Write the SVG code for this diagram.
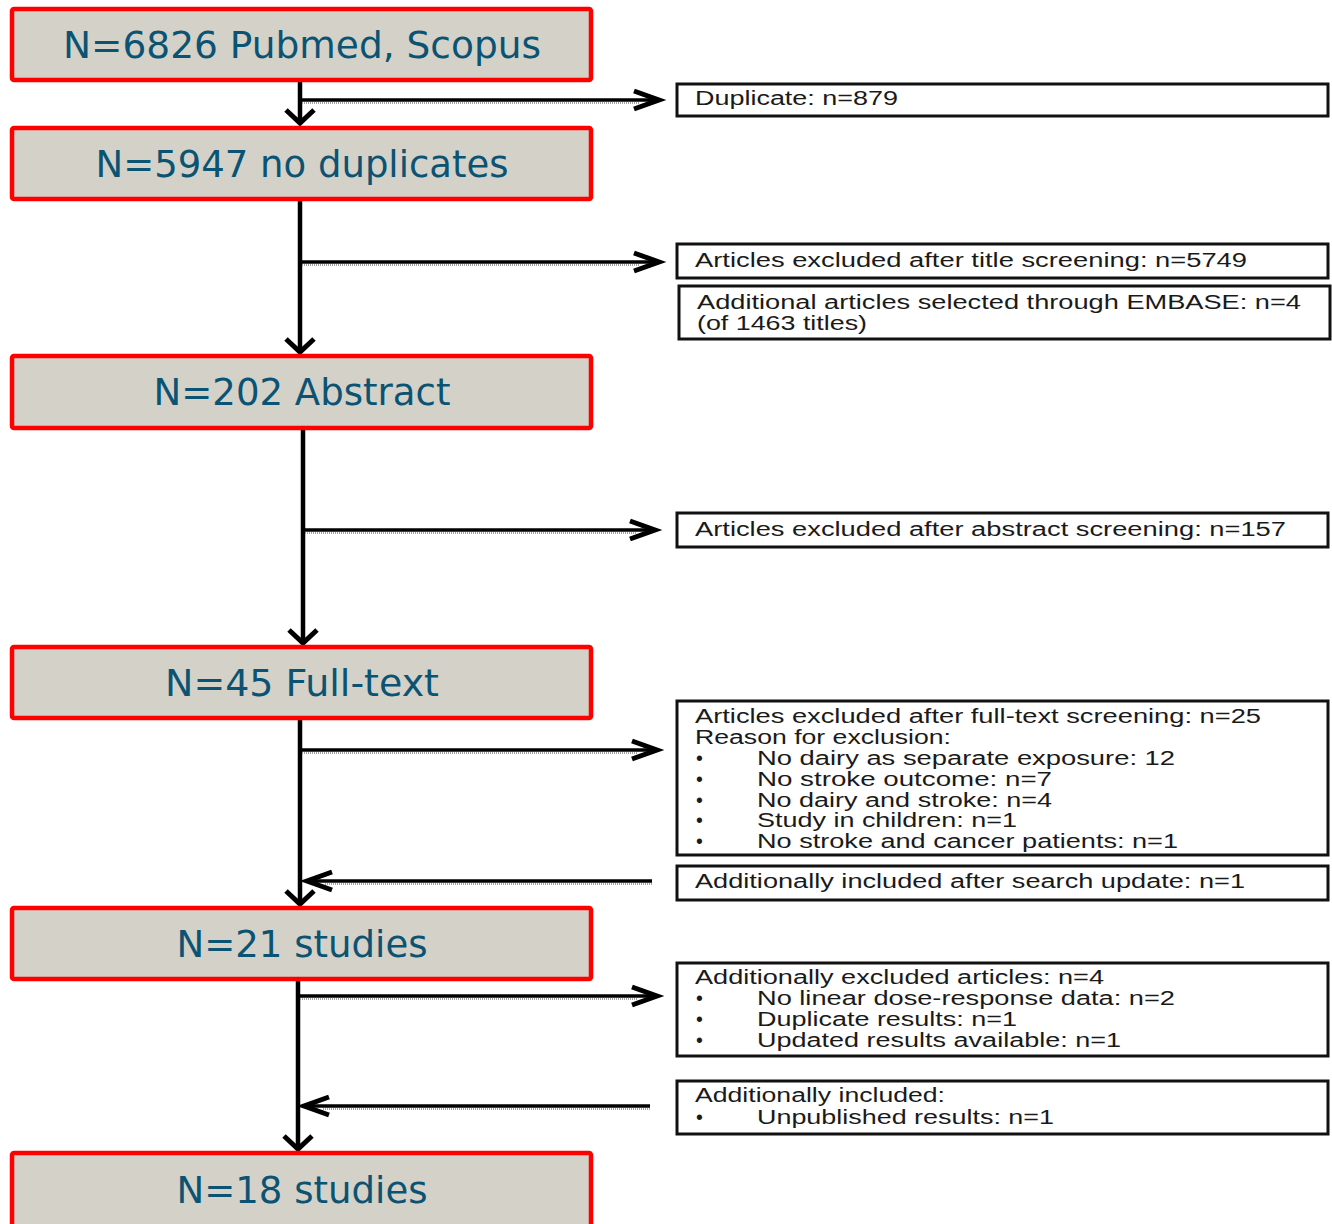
<svg xmlns="http://www.w3.org/2000/svg" width="1332" height="1224" viewBox="0 0 1332 1224">
<style>
.main{fill:#d4d1c8;stroke:#ff0000;stroke-width:4.5}
.mt{font-family:"DejaVu Sans",Verdana,sans-serif;font-size:38px;fill:#0b5373;text-anchor:middle}
.side{fill:#ffffff;stroke:#111111;stroke-width:3}
.st{font-family:"Liberation Sans",Arial,sans-serif;font-size:19.5px;fill:#1a1a1a}
.ln{stroke:#000000;stroke-width:4.5;fill:none}
.lh{stroke:#000000;stroke-width:3.5;fill:none}
.dt{stroke:#888888;stroke-width:1.5;stroke-dasharray:1 1;fill:none}
</style>
<defs>
<marker id="arH" viewBox="0 0 32 22" refX="29" refY="11" markerWidth="32" markerHeight="22" orient="auto" markerUnits="userSpaceOnUse" overflow="visible">
<path d="M3,2 L28,11 L3,20" fill="none" stroke="#000" stroke-width="5"/>
</marker>
<marker id="arV" viewBox="0 0 18 32" refX="16" refY="16" markerWidth="18" markerHeight="32" orient="auto" markerUnits="userSpaceOnUse" overflow="visible">
<path d="M2,2 L15,16 L2,30" fill="none" stroke="#000" stroke-width="5"/>
</marker>
</defs>
<rect width="1332" height="1224" fill="#ffffff"/>

<g id="connectors">
<line class="ln" x1="300" y1="82" x2="300" y2="124" marker-end="url(#arV)"/>
<line class="ln" x1="300" y1="201" x2="300" y2="353" marker-end="url(#arV)"/>
<line class="ln" x1="303" y1="430" x2="303" y2="644" marker-end="url(#arV)"/>
<line class="ln" x1="300" y1="720" x2="300" y2="905" marker-end="url(#arV)"/>
<line class="ln" x1="298" y1="981" x2="298" y2="1150" marker-end="url(#arV)"/>

<line class="dt" x1="302" y1="103" x2="640" y2="103"/>
<line class="lh" x1="300" y1="100" x2="660" y2="100" marker-end="url(#arH)"/>
<line class="dt" x1="302" y1="265" x2="640" y2="265"/>
<line class="lh" x1="300" y1="262" x2="660" y2="262" marker-end="url(#arH)"/>
<line class="dt" x1="305" y1="533" x2="636" y2="533"/>
<line class="lh" x1="303" y1="530" x2="656" y2="530" marker-end="url(#arH)"/>
<line class="dt" x1="302" y1="753" x2="638" y2="753"/>
<line class="lh" x1="300" y1="750" x2="658" y2="750" marker-end="url(#arH)"/>
<line class="dt" x1="652" y1="884" x2="325" y2="884"/>
<line class="lh" x1="652" y1="881" x2="306" y2="881" marker-end="url(#arH)"/>
<line class="dt" x1="300" y1="999" x2="638" y2="999"/>
<line class="lh" x1="298" y1="996" x2="658" y2="996" marker-end="url(#arH)"/>
<line class="dt" x1="650" y1="1109" x2="322" y2="1109"/>
<line class="lh" x1="650" y1="1106" x2="303" y2="1106" marker-end="url(#arH)"/>
</g>

<g id="n1"><rect class="main" x="12" y="9" width="579" height="71" rx="2"/><text class="mt" x="302" y="58" textLength="478" lengthAdjust="spacingAndGlyphs">N=6826 Pubmed, Scopus</text></g>
<g id="n2"><rect class="main" x="12" y="128" width="579" height="71" rx="2"/><text class="mt" x="302" y="177" textLength="413" lengthAdjust="spacingAndGlyphs">N=5947 no duplicates</text></g>
<g id="n3"><rect class="main" x="12" y="356" width="579" height="72" rx="2"/><text class="mt" x="302" y="405" textLength="297" lengthAdjust="spacingAndGlyphs">N=202 Abstract</text></g>
<g id="n4"><rect class="main" x="12" y="647" width="579" height="71" rx="2"/><text class="mt" x="302" y="696" textLength="274" lengthAdjust="spacingAndGlyphs">N=45 Full-text</text></g>
<g id="n5"><rect class="main" x="12" y="908" width="579" height="71" rx="2"/><text class="mt" x="302" y="957" textLength="251" lengthAdjust="spacingAndGlyphs">N=21 studies</text></g>
<g id="n6"><rect class="main" x="12" y="1153" width="579" height="80" rx="2"/><text class="mt" x="302" y="1203" textLength="251" lengthAdjust="spacingAndGlyphs">N=18 studies</text></g>

<g id="s1"><rect class="side" x="677" y="84" width="651" height="32"/><text class="st" x="695" y="105" textLength="203" lengthAdjust="spacingAndGlyphs">Duplicate: n=879</text></g>
<g id="s2"><rect class="side" x="677" y="244" width="651" height="34"/><text class="st" x="695" y="267" textLength="552" lengthAdjust="spacingAndGlyphs">Articles excluded after title screening: n=5749</text></g>
<g id="s3"><rect class="side" x="679" y="286" width="651" height="53"/><text class="st" x="697" y="309" textLength="604" lengthAdjust="spacingAndGlyphs">Additional articles selected through  EMBASE: n=4</text><text class="st" x="697" y="330" textLength="170" lengthAdjust="spacingAndGlyphs">(of 1463 titles)</text></g>
<g id="s4"><rect class="side" x="677" y="513" width="651" height="34"/><text class="st" x="695" y="536" textLength="591" lengthAdjust="spacingAndGlyphs">Articles excluded after abstract screening: n=157</text></g>
<g id="s5"><rect class="side" x="677" y="701" width="651" height="154"/>
<text class="st" x="695" y="723" textLength="566" lengthAdjust="spacingAndGlyphs">Articles excluded after full-text  screening: n=25</text>
<text class="st" x="695" y="744" textLength="256" lengthAdjust="spacingAndGlyphs">Reason for exclusion:</text>
<text class="st" x="696" y="765">•</text><text class="st" x="757" y="765" textLength="418" lengthAdjust="spacingAndGlyphs">No dairy as separate exposure: 12</text>
<text class="st" x="696" y="786">•</text><text class="st" x="757" y="786" textLength="295" lengthAdjust="spacingAndGlyphs">No stroke outcome:  n=7</text>
<text class="st" x="696" y="807">•</text><text class="st" x="757" y="807" textLength="295" lengthAdjust="spacingAndGlyphs">No dairy and stroke: n=4</text>
<text class="st" x="696" y="827">•</text><text class="st" x="757" y="827" textLength="260" lengthAdjust="spacingAndGlyphs">Study in children: n=1</text>
<text class="st" x="696" y="848">•</text><text class="st" x="757" y="848" textLength="421" lengthAdjust="spacingAndGlyphs">No stroke and cancer patients: n=1</text>
</g>
<g id="s6"><rect class="side" x="677" y="866" width="651" height="34"/><text class="st" x="695" y="888" textLength="550" lengthAdjust="spacingAndGlyphs">Additionally included after search update: n=1</text></g>
<g id="s7"><rect class="side" x="677" y="963" width="651" height="93"/>
<text class="st" x="695" y="984" textLength="409" lengthAdjust="spacingAndGlyphs">Additionally excluded articles: n=4</text>
<text class="st" x="696" y="1005">•</text><text class="st" x="757" y="1005" textLength="418" lengthAdjust="spacingAndGlyphs">No linear dose-response data: n=2</text>
<text class="st" x="696" y="1026">•</text><text class="st" x="757" y="1026" textLength="260" lengthAdjust="spacingAndGlyphs">Duplicate results: n=1</text>
<text class="st" x="696" y="1047">•</text><text class="st" x="757" y="1047" textLength="364" lengthAdjust="spacingAndGlyphs">Updated results available: n=1</text>
</g>
<g id="s8"><rect class="side" x="677" y="1081" width="651" height="53"/>
<text class="st" x="695" y="1102" textLength="250" lengthAdjust="spacingAndGlyphs">Additionally included:</text>
<text class="st" x="696" y="1124">•</text><text class="st" x="757" y="1124" textLength="297" lengthAdjust="spacingAndGlyphs">Unpublished results: n=1</text>
</g>
</svg>
